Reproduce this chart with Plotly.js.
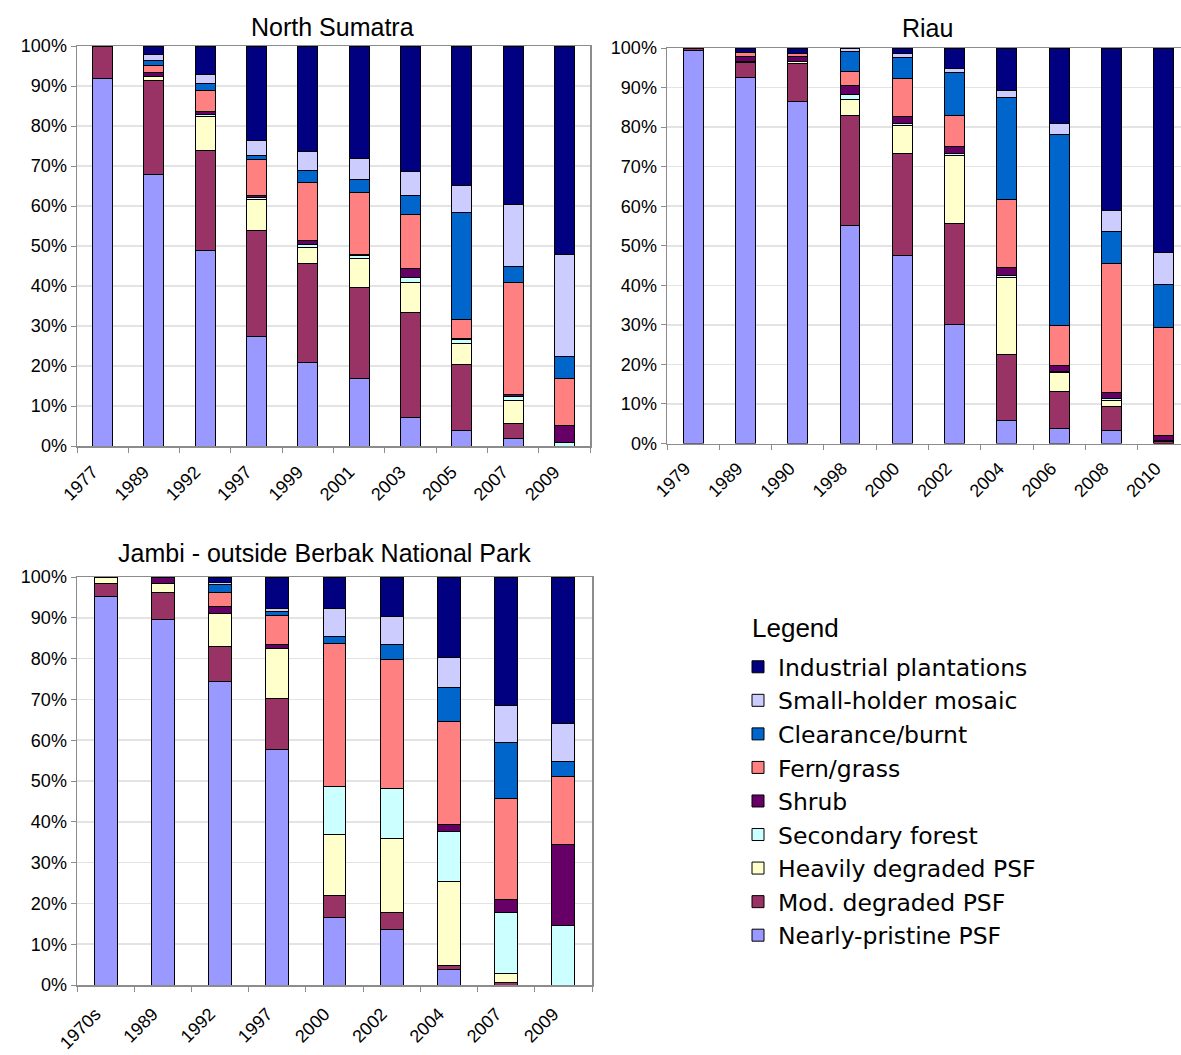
<!DOCTYPE html>
<html>
<head>
<meta charset="utf-8">
<script src="https://cdn.plot.ly/plotly-3.0.1.min.js"></script>
<style>
  html, body { margin: 0; padding: 0; background: #ffffff; }
  #chart { width: 1181px; height: 1055px; }
</style>
</head>
<body>
<div id="chart"></div>
<script>
// ---------- Categories (tick labels) ----------
const yearsNorthSumatra = ['1977','1989','1992','1997','1999','2001','2003','2005','2007','2009'];
const yearsRiau = ['1979','1989','1990','1998','2000','2002','2004','2006','2008','2010'];
const yearsJambi = ['1970s','1989','1992','1997','2000','2002','2004','2007','2009'];

// ---------- Land-cover class names (bottom of stack first) ----------
const classNames = ['Nearly-pristine PSF','Mod. degraded PSF','Heavily degraded PSF','Secondary forest','Shrub','Fern/grass','Clearance/burnt','Small-holder mosaic','Industrial plantations'];
const classColors = ['#9999FF','#993366','#FFFFCC','#CCFFFF','#660066','#FF8080','#0066CC','#CCCCFF','#000080'];

// ---------- North Sumatra (% of area) ----------
const nsPristine   = [92.0, 68.0, 49.0, 27.4, 20.9, 16.9,  7.2,  3.8,  1.9,  0.0];
const nsModerate   = [ 7.8, 23.5, 25.0, 26.5, 24.7, 22.7, 26.2, 16.5,  3.8,  0.0];
const nsHeavy      = [ 0.0,  1.0,  8.5,  7.7,  4.1,  7.2,  7.5,  5.4,  5.7,  0.0];
const nsSecondary  = [ 0.0,  0.0,  0.3,  0.6,  0.8,  0.9,  1.3,  1.0,  1.0,  1.0];
const nsShrub      = [ 0.0,  0.8,  0.8,  0.4,  1.0,  0.3,  2.3,  0.3,  0.5,  4.1];
const nsFern       = [ 0.0,  1.8,  5.4,  9.0, 14.3, 15.5, 13.3,  4.6, 28.0, 11.7];
const nsClearance  = [ 0.0,  1.4,  1.6,  1.1,  3.1,  3.1,  4.9, 26.9,  4.0,  5.6];
const nsSmallhold  = [ 0.0,  1.5,  2.3,  3.8,  4.8,  5.2,  6.0,  6.7, 15.5, 25.6];
const nsIndustrial = [ 0.2,  2.0,  7.1, 23.5, 26.3, 28.2, 31.3, 34.8, 39.6, 52.0];

// ---------- Riau (% of area) ----------
const riPristine   = [99.3, 92.6, 86.4, 55.0, 47.5, 30.2,  5.7,  3.8,  3.4,  0.0];
const riModerate   = [ 0.7,  3.8,  9.6, 27.9, 25.7, 25.5, 16.7,  9.3,  5.9,  0.4];
const riHeavy      = [ 0.0,  0.3,  0.5,  4.2,  7.1, 17.1, 19.5,  4.9,  1.7,  0.0];
const riSecondary  = [ 0.0,  0.0,  0.0,  1.1,  0.5,  0.6,  0.7,  0.3,  0.4,  0.3];
const riShrub      = [ 0.0,  1.1,  1.4,  2.3,  1.9,  1.7,  1.9,  1.3,  1.5,  1.4];
const riFern       = [ 0.0,  1.1,  0.8,  3.6,  9.5,  7.9, 17.1, 10.2, 32.7, 27.3];
const riClearance  = [ 0.0,  0.0,  0.0,  5.1,  5.5, 10.7, 26.0, 48.3,  8.0, 10.7];
const riSmallhold  = [ 0.0,  0.0,  0.0,  0.8,  1.0,  1.0,  1.7,  2.9,  5.2,  8.3];
const riIndustrial = [ 0.0,  1.1,  1.3,  0.0,  1.3,  5.3, 10.7, 19.0, 41.2, 51.6];

// ---------- Jambi - outside Berbak NP (% of area) ----------
const jaPristine   = [95.3, 89.6, 74.4, 57.7, 16.5, 13.6,  3.7,  0.0,  0.0];
const jaModerate   = [ 3.1,  6.5,  8.6, 12.5,  5.5,  4.2,  1.0,  0.5,  0.0];
const jaHeavy      = [ 1.6,  2.3,  8.0, 12.2, 15.0, 18.1, 20.6,  2.4,  0.0];
const jaSecondary  = [ 0.0,  0.0,  0.0,  0.0, 11.6, 12.3, 12.3, 14.8, 14.6];
const jaShrub      = [ 0.0,  1.6,  1.7,  1.1,  0.0,  0.0,  1.8,  3.3, 19.8];
const jaFern       = [ 0.0,  0.0,  3.4,  7.1, 35.2, 31.6, 25.1, 24.7, 16.6];
const jaClearance  = [ 0.0,  0.0,  2.1,  1.0,  1.5,  3.6,  8.4, 13.7,  3.9];
const jaSmallhold  = [ 0.0,  0.0,  0.5,  0.8,  6.9,  7.0,  7.3,  9.0,  9.2];
const jaIndustrial = [ 0.0,  0.0,  1.3,  7.6,  7.8,  9.6, 19.8, 31.6, 35.9];

const regions = [
  { years: yearsNorthSumatra, xa: 'x',  ya: 'y',
    series: [nsPristine, nsModerate, nsHeavy, nsSecondary, nsShrub, nsFern, nsClearance, nsSmallhold, nsIndustrial], width: 0.39 },
  { years: yearsRiau, xa: 'x2', ya: 'y2',
    series: [riPristine, riModerate, riHeavy, riSecondary, riShrub, riFern, riClearance, riSmallhold, riIndustrial], width: 0.38 },
  { years: yearsJambi, xa: 'x3', ya: 'y3',
    series: [jaPristine, jaModerate, jaHeavy, jaSecondary, jaShrub, jaFern, jaClearance, jaSmallhold, jaIndustrial], width: 0.40 }
];

const traces = [];
classNames.forEach((name, ci) => {
  regions.forEach((r, ri) => {
    traces.push({
      type: 'bar',
      name: name,
      x: r.years,
      y: r.series[ci],
      xaxis: r.xa,
      yaxis: r.ya,
      width: r.width,
      showlegend: ri === 0,
      marker: { color: classColors[ci], line: { color: '#000000', width: 1 } },
      hoverinfo: 'x+y+name'
    });
  });
});

const FONT = 'Liberation Sans, Arial, sans-serif';
const LEGEND_FONT = 'DejaVu Sans, Liberation Sans, sans-serif';
const W = 1181, H = 1055;
const px = v => v / W;
const py = v => 1 - v / H;

function xAxis(domain, range, shift, standoff) {
  return {
    domain: domain, type: 'category', range: range,
    showline: true, linecolor: '#8c8c8c', linewidth: 1.5, mirror: true,
    ticks: 'outside', ticklen: 5, tickcolor: '#8c8c8c', tickson: 'boundaries',
    showgrid: false, tickangle: -45, ticklabelshift: shift, ticklabelstandoff: standoff,
    tickfont: { family: FONT, size: 18, color: '#000' }, zeroline: false, fixedrange: true
  };
}
function yAxis(domain, anchor) {
  return {
    domain: domain, anchor: anchor, range: [0, 100], dtick: 10, ticksuffix: '%',
    showline: true, linecolor: '#8c8c8c', linewidth: 1.5, mirror: true,
    ticks: 'outside', ticklen: 5, tickcolor: '#8c8c8c',
    showgrid: true, gridcolor: '#e3e3e3', gridwidth: 1.5, zeroline: false,
    tickfont: { family: FONT, size: 18, color: '#000' }, fixedrange: true
  };
}

const layout = {
  width: W, height: H,
  margin: { l: 0, r: 0, t: 0, b: 0 },
  paper_bgcolor: '#ffffff', plot_bgcolor: '#ffffff',
  barmode: 'stack', bargap: 0,
  font: { family: FONT, color: '#000' },
  xaxis:  Object.assign(xAxis([px(77), px(590)], [-0.5, 9.5], -10, 7), { anchor: 'y' }),
  yaxis:  yAxis([py(446), py(46)], 'x'),
  xaxis2: Object.assign(xAxis([px(667), 1], [-0.5, 9.33], -8, 6), { anchor: 'y2' }),
  yaxis2: yAxis([py(443.5), py(48)], 'x2'),
  xaxis3: Object.assign(xAxis([px(77), px(592)], [-0.5, 8.5], -10, 10), { anchor: 'y3' }),
  yaxis3: yAxis([py(985), py(577)], 'x3'),
  legend: {
    x: px(738), y: py(645), xanchor: 'left', yanchor: 'top',
    traceorder: 'reversed', bgcolor: 'rgba(0,0,0,0)',
    font: { family: LEGEND_FONT, size: 23.5, color: '#000' },
    itemwidth: 30
  },
  annotations: [
    { text: 'North Sumatra', x: px(332), y: py(27), xref: 'paper', yref: 'paper', showarrow: false,
      xanchor: 'center', yanchor: 'middle', font: { family: FONT, size: 25, color: '#000' } },
    { text: 'Riau', x: px(927), y: py(28), xref: 'paper', yref: 'paper', showarrow: false,
      xanchor: 'center', yanchor: 'middle', font: { family: FONT, size: 25, color: '#000' } },
    { text: 'Jambi - outside Berbak National Park', x: px(324), y: py(553), xref: 'paper', yref: 'paper', showarrow: false,
      xanchor: 'center', yanchor: 'middle', font: { family: FONT, size: 25, color: '#000' } },
    { text: 'Legend', x: px(750), y: py(628), xref: 'paper', yref: 'paper', showarrow: false,
      xanchor: 'left', yanchor: 'middle', font: { family: FONT, size: 26, color: '#000' } }
  ]
};

Plotly.newPlot('chart', traces, layout, { staticPlot: true, displayModeBar: false });
</script>
</body>
</html>
